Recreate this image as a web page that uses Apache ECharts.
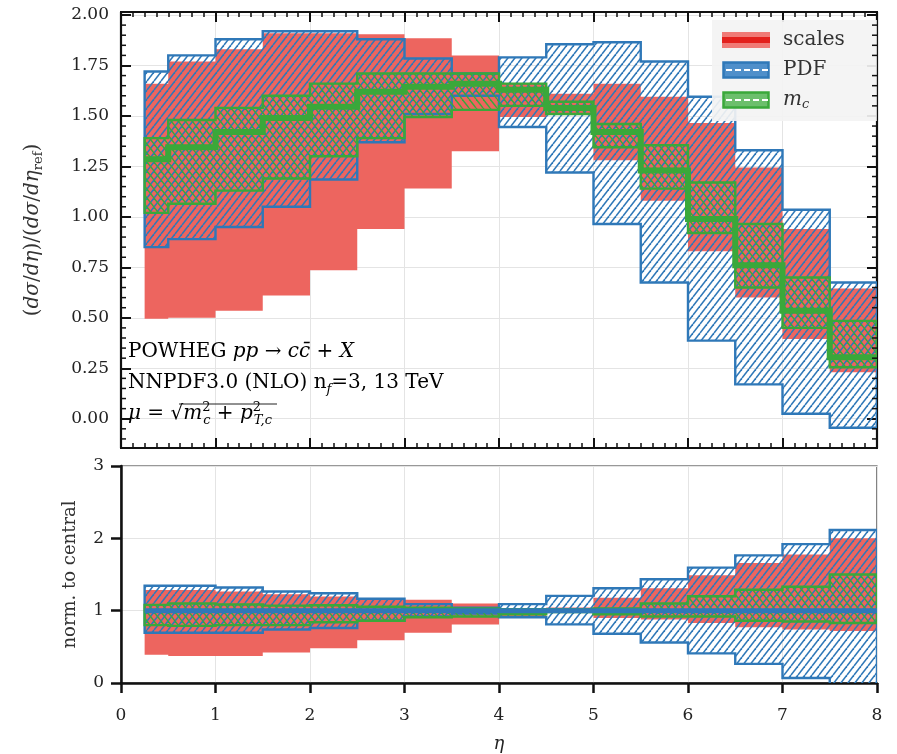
<!DOCTYPE html>
<html>
<head>
<meta charset="utf-8">
<script src="https://cdn.jsdelivr.net/npm/echarts@6/dist/echarts.min.js"></script>
<style>
  html, body { margin: 0; padding: 0; background: #fff; }
  #chart { width: 897px; height: 754px; }
</style>
</head>
<body>
<div id="chart"></div>
<script>
// bin edges in eta (16 bins)
var edges = [0.25, 0.5, 1.0, 1.5, 2.0, 2.5, 3.0, 3.5, 4.0, 4.5, 5.0, 5.5, 6.0, 6.5, 7.0, 7.5, 8.0];

// upper panel: (dsigma/deta)/(dsigma/deta_ref)
var central  = [1.285, 1.345, 1.42, 1.49, 1.545, 1.62, 1.645, 1.66, 1.63, 1.54, 1.42, 1.23, 0.99, 0.76, 0.535, 0.305];
var scalesHi = [1.66, 1.77, 1.83, 1.91, 1.91, 1.905, 1.885, 1.80, 1.66, 1.61, 1.66, 1.595, 1.465, 1.245, 0.94, 0.645];
var scalesLo = [0.495, 0.50, 0.535, 0.61, 0.735, 0.94, 1.14, 1.325, 1.495, 1.51, 1.28, 1.08, 0.83, 0.60, 0.395, 0.23];
var pdfHi    = [1.72, 1.80, 1.88, 1.92, 1.92, 1.88, 1.785, 1.71, 1.79, 1.855, 1.865, 1.77, 1.595, 1.33, 1.035, 0.675];
var pdfLo    = [0.85, 0.89, 0.95, 1.05, 1.185, 1.37, 1.51, 1.60, 1.445, 1.22, 0.965, 0.675, 0.387, 0.17, 0.025, -0.045];
var mcHi     = [1.39, 1.48, 1.54, 1.60, 1.66, 1.71, 1.71, 1.71, 1.66, 1.57, 1.46, 1.355, 1.17, 0.965, 0.70, 0.485];
var mcLo     = [1.02, 1.065, 1.13, 1.19, 1.30, 1.39, 1.495, 1.53, 1.55, 1.51, 1.345, 1.14, 0.92, 0.65, 0.45, 0.255];

// lower panel: normalised to central
var ratioCentral = [1, 1, 1, 1, 1, 1, 1, 1, 1, 1, 1, 1, 1, 1, 1, 1];
var scalesRHi = [1.285, 1.285, 1.265, 1.227, 1.195, 1.17, 1.15, 1.10, 1.02, 1.045, 1.18, 1.31, 1.49, 1.66, 1.775, 2.0];
var scalesRLo = [0.39, 0.375, 0.375, 0.42, 0.48, 0.59, 0.695, 0.81, 0.92, 0.97, 0.90, 0.877, 0.83, 0.77, 0.74, 0.72];
var pdfRHi    = [1.345, 1.345, 1.32, 1.265, 1.24, 1.165, 1.09, 1.04, 1.09, 1.205, 1.31, 1.435, 1.595, 1.765, 1.92, 2.115];
var pdfRLo    = [0.695, 0.695, 0.695, 0.74, 0.76, 0.86, 0.92, 0.96, 0.91, 0.81, 0.68, 0.56, 0.41, 0.265, 0.07, -0.1];
var mcRHi     = [1.08, 1.10, 1.085, 1.07, 1.075, 1.055, 1.04, 1.03, 1.02, 1.02, 1.03, 1.10, 1.20, 1.29, 1.33, 1.50];
var mcRLo     = [0.80, 0.79, 0.80, 0.80, 0.84, 0.86, 0.91, 0.92, 0.95, 0.98, 0.95, 0.92, 0.92, 0.86, 0.85, 0.83];

// tick values
var yTicksTop = [0, 0.25, 0.5, 0.75, 1.0, 1.25, 1.5, 1.75, 2.0];
var yTicksBottom = [0, 1, 2, 3];
var yMinorTop = [];
for (var k = -2; k <= 40; k++) { if (k % 5 !== 0) yMinorTop.push(k * 0.05); }

var FONT = 'DejaVu Serif';
var RED = '#ed655f', BLUE = '#2f78b8', GREEN = '#3aa83a';

function hatch(color, dir, w, h, lw) {
  var c = document.createElement('canvas');
  c.width = w; c.height = h;
  var g = c.getContext('2d');
  g.strokeStyle = color; g.lineWidth = lw;
  for (var k = -1; k <= 1; k++) {
    g.beginPath();
    if (dir > 0) { g.moveTo(k * w, h); g.lineTo(k * w + w, 0); }
    else { g.moveTo(k * w, 0); g.lineTo(k * w + w, h); }
    g.stroke();
  }
  return c;
}
var blueHatch = hatch(BLUE, 1, 7, 9, 1.6);
var greenHatch = hatch(GREEN, -1, 7, 9, 1.4);

function legendIcon(kind) {
  var c = document.createElement('canvas');
  c.width = 48; c.height = 18;
  var g = c.getContext('2d');
  if (kind === 'scales') {
    g.fillStyle = '#f07a76'; g.fillRect(0, 1, 48, 16);
    g.fillStyle = '#e3201c'; g.fillRect(0, 6, 48, 6);
  } else {
    var col = kind === 'pdf' ? BLUE : GREEN;
    g.fillStyle = kind === 'pdf' ? '#4f8fca' : '#6cbf6c';
    g.fillRect(1, 1, 46, 16);
    g.strokeStyle = col; g.lineWidth = 2.5; g.strokeRect(1.5, 1.5, 45, 15);
    g.strokeStyle = '#fff'; g.lineWidth = 2; g.setLineDash([6, 3]);
    g.beginPath(); g.moveTo(4, 9); g.lineTo(46, 9); g.stroke();
  }
  return 'image://' + c.toDataURL();
}

function band(name, xi, yi, lo, hi, style, z) {
  return {
    type: 'custom', name: name, xAxisIndex: xi, yAxisIndex: yi, z: z, clip: true,
    silent: true, data: [0],
    renderItem: function (params, api) {
      var pts = [];
      for (var i = 0; i < hi.length; i++) {
        pts.push(api.coord([edges[i], hi[i]]), api.coord([edges[i + 1], hi[i]]));
      }
      for (var j = lo.length - 1; j >= 0; j--) {
        pts.push(api.coord([edges[j + 1], lo[j]]), api.coord([edges[j], lo[j]]));
      }
      return { type: 'polygon', shape: { points: pts }, style: style };
    }
  };
}

function stepLine(xi, yi, vals, color, width, z) {
  return {
    type: 'custom', xAxisIndex: xi, yAxisIndex: yi, z: z, clip: true, silent: true, data: [0],
    renderItem: function (params, api) {
      var pts = [];
      for (var i = 0; i < vals.length; i++) {
        pts.push(api.coord([edges[i], vals[i]]), api.coord([edges[i + 1], vals[i]]));
      }
      return { type: 'polyline', shape: { points: pts }, style: { stroke: color, lineWidth: width, fill: null } };
    }
  };
}

// minor y ticks of the upper panel, on both spines, pointing inward
var minorYTicks = {
  type: 'custom', xAxisIndex: 0, yAxisIndex: 0, z: 20, silent: true, data: [0],
  renderItem: function (params, api) {
    var kids = [];
    yMinorTop.forEach(function (v) {
      var l = api.coord([0, v]), r = api.coord([8, v]);
      kids.push({ type: 'line', shape: { x1: l[0], y1: l[1], x2: l[0] + 5, y2: l[1] }, style: { stroke: '#111', lineWidth: 1.5 } });
      kids.push({ type: 'line', shape: { x1: r[0], y1: r[1], x2: r[0] - 5, y2: r[1] }, style: { stroke: '#111', lineWidth: 1.5 } });
    });
    return { type: 'group', children: kids };
  }
};

var redStyle = { fill: RED, stroke: null };
var blueStyle = { fill: { image: blueHatch, repeat: 'repeat' }, stroke: BLUE, lineWidth: 2.4 };
var greenStyle = { fill: { image: greenHatch, repeat: 'repeat' }, stroke: GREEN, lineWidth: 2.4 };

var richText = {
  r: { fontFamily: FONT, fontSize: 20, color: '#222', lineHeight: 26 },
  i: { fontFamily: FONT, fontSize: 20, fontStyle: 'italic', color: '#222', lineHeight: 26 },
  sup: { fontFamily: FONT, fontSize: 13, color: '#222', lineHeight: 13, verticalAlign: 'top', width: 1 },
  sub: { fontFamily: FONT, fontSize: 13, fontStyle: 'italic', color: '#222', lineHeight: 13, verticalAlign: 'bottom' }
};

var majorTick = { show: true, inside: true, length: 10, lineStyle: { color: '#111', width: 2 } };
var minorTickStyle = { show: true, splitNumber: 8, length: 5, lineStyle: { color: '#111', width: 1.5 } };
var gridLine = { show: true, lineStyle: { color: '#e4e4e4', width: 1 } };
var blackLine = { show: true, onZero: false, lineStyle: { color: '#111', width: 2.2 } };

var chart = echarts.init(document.getElementById('chart'));
chart.setOption({
  animation: false,
  backgroundColor: '#fff',
  grid: [
    { left: 121, right: 20, top: 12, height: 436, show: true, borderColor: '#111', borderWidth: 2 },
    { left: 121, right: 20, top: 466, height: 220, show: true, borderColor: '#333', borderWidth: 1.2 }
  ],
  xAxis: [
    { gridIndex: 0, type: 'value', min: 0, max: 8, interval: 1, position: 'bottom',
      axisLine: blackLine, axisTick: majorTick, minorTick: minorTickStyle,
      axisLabel: { show: false }, splitLine: gridLine },
    { gridIndex: 0, type: 'value', min: 0, max: 8, interval: 1, position: 'top',
      axisLine: blackLine, axisTick: majorTick, minorTick: minorTickStyle,
      axisLabel: { show: false }, splitLine: { show: false } },
    { gridIndex: 1, type: 'value', min: 0, max: 8, interval: 1, position: 'bottom',
      axisLine: { show: true, onZero: false, lineStyle: { color: '#111', width: 2.5 } },
      axisTick: { show: true, inside: false, length: 10, lineStyle: { color: '#111', width: 2.5 } },
      axisLabel: { fontFamily: FONT, fontSize: 17, color: '#222', margin: 24 },
      splitLine: gridLine,
      name: 'η', nameLocation: 'middle', nameGap: 52,
      nameTextStyle: { fontFamily: FONT, fontSize: 18, fontStyle: 'italic', color: '#222' } }
  ],
  yAxis: [
    { gridIndex: 0, type: 'value', min: -0.145, max: 2.015, position: 'left',
      axisLine: blackLine,
      axisTick: { show: true, inside: true, length: 10, customValues: yTicksTop, lineStyle: { color: '#111', width: 2 } },
      axisLabel: { customValues: yTicksTop, fontFamily: FONT, fontSize: 17, color: '#222', margin: 12,
        formatter: function (v) { return v.toFixed(2); } },
      splitLine: gridLine,
      name: '{n|(}{i|dσ}{n|/}{i|dη}{n|)/(}{i|dσ}{n|/}{i|dη}{s|ref}{n|)}',
      nameLocation: 'middle', nameRotate: 90, nameGap: 76,
      nameTextStyle: { rich: {
        n: { fontFamily: FONT, fontSize: 20, color: '#333', lineHeight: 24 },
        i: { fontFamily: FONT, fontSize: 20, fontStyle: 'italic', color: '#333', lineHeight: 24 },
        s: { fontFamily: FONT, fontSize: 13, color: '#333', lineHeight: 13, verticalAlign: 'bottom' } } } },
    { gridIndex: 0, type: 'value', min: -0.145, max: 2.015, position: 'right',
      axisLine: blackLine,
      axisTick: { show: true, inside: true, length: 10, customValues: yTicksTop, lineStyle: { color: '#111', width: 2 } },
      axisLabel: { show: false }, splitLine: { show: false } },
    { gridIndex: 1, type: 'value', min: 0, max: 3, interval: 1, position: 'left',
      axisLine: { show: true, onZero: false, lineStyle: { color: '#111', width: 2.5 } },
      axisTick: { show: true, inside: false, length: 10, lineStyle: { color: '#111', width: 2.5 } },
      axisLabel: { fontFamily: FONT, fontSize: 17, color: '#222', margin: 17,
        customValues: yTicksBottom },
      splitLine: gridLine,
      name: 'norm. to central', nameLocation: 'middle', nameRotate: 90, nameGap: 42,
      nameTextStyle: { fontFamily: FONT, fontSize: 18, color: '#333' } }
  ],
  legend: {
    left: 712, top: 20, orient: 'vertical',
    itemWidth: 48, itemHeight: 18, itemGap: 10,
    backgroundColor: 'rgba(243,243,243,0.92)', padding: [10, 32, 10, 10],
    textStyle: { fontFamily: FONT, fontSize: 20, color: '#333', padding: [0, 0, 0, 8],
      rich: {
        i: { fontFamily: FONT, fontSize: 20, fontStyle: 'italic', color: '#333', lineHeight: 22 },
        s: { fontFamily: FONT, fontSize: 13, fontStyle: 'italic', color: '#333', lineHeight: 12, verticalAlign: 'bottom' }
      } },
    formatter: function (n) { return n === 'm_c' ? '{i|m}{s|c}' : n; },
    data: [
      { name: 'scales', icon: legendIcon('scales') },
      { name: 'PDF', icon: legendIcon('pdf') },
      { name: 'm_c', icon: legendIcon('mc') }
    ]
  },
  graphic: [
    { type: 'text', left: 128, top: 342, z: 50, silent: true,
      style: { rich: richText, text: '{r|POWHEG }{i|pp}{r| → }{i|cc̄}{r| + }{i|X}' } },
    { type: 'text', left: 128, top: 373, z: 50, silent: true,
      style: { rich: richText, text: '{r|NNPDF3.0 (NLO) n}{sub|f}{r|=3, 13 TeV}' } },
    { type: 'text', left: 128, top: 401, z: 50, silent: true,
      style: { rich: richText, text: '{i|μ}{r| = √}{i|m}{sup|2}{sub|c}{r| + }{i|p}{sup|2}{sub|T,c}' } },
    { type: 'line', z: 50, silent: true,
      shape: { x1: 179, y1: 404, x2: 277, y2: 404 }, style: { stroke: '#222', lineWidth: 1 } }
  ],
  series: [
    band('scales', 0, 0, scalesLo, scalesHi, redStyle, 2),
    band('PDF', 0, 0, pdfLo, pdfHi, blueStyle, 3),
    band('m_c', 0, 0, mcLo, mcHi, greenStyle, 4),
    stepLine(0, 0, central, GREEN, 6, 5),
    minorYTicks,
    band('scalesR', 2, 2, scalesRLo, scalesRHi, redStyle, 2),
    band('PDFR', 2, 2, pdfRLo, pdfRHi, blueStyle, 3),
    band('mcR', 2, 2, mcRLo, mcRHi, greenStyle, 4),
    stepLine(2, 2, ratioCentral, BLUE, 5, 5)
  ]
});
</script>
</body>
</html>
